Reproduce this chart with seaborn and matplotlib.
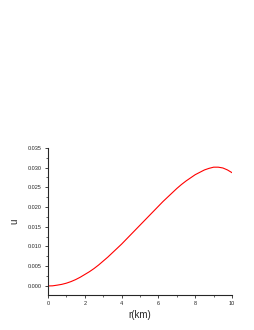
import matplotlib
matplotlib.use("Agg")
import matplotlib.pyplot as plt
from matplotlib.ticker import MultipleLocator, FormatStrFormatter
import seaborn as sns
import pandas as pd

r_km = [0.0, 0.25, 0.5, 0.75, 1.0, 1.25, 1.5, 1.75, 2.0, 2.25, 2.5, 2.75,
        3.0, 3.25, 3.5, 3.75, 4.0, 4.25, 4.5, 4.75, 5.0, 5.25, 5.5, 5.75,
        6.0, 6.25, 6.5, 6.75, 7.0, 7.25, 7.5, 7.75, 8.0, 8.25, 8.5, 8.75,
        9.0, 9.25, 9.5, 9.75, 10.0]
u_vals = [0.0000, 0.00003, 0.0002, 0.0004, 0.0007, 0.0011, 0.0016, 0.0022,
          0.0029, 0.0036, 0.0044, 0.0053, 0.0063, 0.0073, 0.0084, 0.0095,
          0.0106, 0.0118, 0.0130, 0.0142, 0.0154, 0.0166, 0.0178, 0.0190,
          0.0202, 0.0214, 0.0225, 0.0236, 0.0247, 0.0257, 0.0266, 0.0274,
          0.0282, 0.0288, 0.0294, 0.0298, 0.0301, 0.0301, 0.0299, 0.0294,
          0.0287]

df = pd.DataFrame({"r": r_km, "u": u_vals})

sns.set_style("ticks")
plt.rcParams['font.family'] = ['Liberation Sans', 'DejaVu Sans']

fig = plt.figure(figsize=(2.55, 3.30), dpi=100)
ax = fig.add_axes([0.188, 0.106, 0.722, 0.446])
sns.lineplot(data=df, x="r", y="u", color="red", linewidth=0.8, ax=ax)

ax.set_xlim(0, 10)
ax.set_ylim(-0.0023, 0.035)
ax.xaxis.set_major_locator(MultipleLocator(2))
ax.xaxis.set_minor_locator(MultipleLocator(1))
ax.yaxis.set_major_locator(MultipleLocator(0.005))
ax.yaxis.set_minor_locator(MultipleLocator(0.0025))
ax.yaxis.set_major_formatter(FormatStrFormatter('%.3f'))
ax.tick_params(which='major', length=2.5, width=0.6, labelsize=4, pad=2)
ax.tick_params(which='minor', length=1.5, width=0.5)
for s in ['top', 'right']:
    ax.spines[s].set_visible(False)
for s in ['left', 'bottom']:
    ax.spines[s].set_linewidth(0.8)
ax.set_xlabel("r(km)", fontsize=7, labelpad=3)
ax.set_ylabel("u", fontsize=7, labelpad=6)

fig.savefig("out.png", dpi=100)
